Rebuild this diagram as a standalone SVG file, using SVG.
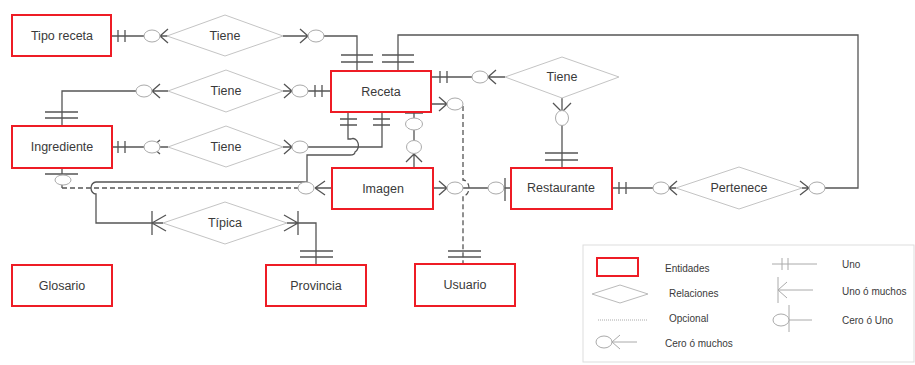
<svg xmlns="http://www.w3.org/2000/svg" width="915" height="365" viewBox="0 0 915 365">
<style>
.ent{fill:#fff;stroke:#ee1c25;stroke-width:2}
.rel{fill:#fff;stroke:#c4c4c4;stroke-width:1}
.ln{fill:none;stroke:#555;stroke-width:1.3}
.dsh{stroke-dasharray:5,3}
.o{fill:#fff;stroke:#aaa;stroke-width:1}
.lg{fill:none;stroke:#aaa;stroke-width:1}
text{font-family:"Liberation Sans",Arial,sans-serif;fill:#3a3a3a;font-size:12.5px;text-anchor:middle}
.t{font-size:10px;text-anchor:start}
</style>
<rect width="915" height="365" fill="#fff"/>
<g id="connectors">
  <!-- Tipo receta - Tiene - Receta -->
  <path class="ln" d="M112,36 H144 M118,30 V42 M125,30 V42 M160,36 L168,29 M160,36 L168,43 M160,36 H168"/>
  <path class="ln" d="M283,36 H308 M308,36 L300,29 M308,36 L300,43 M324,36 H357 V71 M341,55 H373 M341,62 H373"/>
  <ellipse class="o" cx="152" cy="36" rx="8" ry="6"/>
  <ellipse class="o" cx="316" cy="36" rx="8" ry="6"/>
  <!-- Receta - Pertenece loop -->
  <path class="ln" d="M398,71 V35 H858 V188 H825 M382,55 H414 M382,62 H414 M802,188 H809 M809,188 L800,181 M809,188 L800,195"/>
  <ellipse class="o" cx="817" cy="188" rx="8" ry="6"/>
  <!-- Restaurante - Pertenece -->
  <path class="ln" d="M612,188 H653 M619,182 V194 M626,182 V194 M669,188 H676 M669,188 L677,181 M669,188 L677,195"/>
  <ellipse class="o" cx="661" cy="188" rx="8" ry="6"/>
  <!-- Ingrediente - Tiene - Receta (top) -->
  <path class="ln" d="M62,126 V91 H136 M45,112 H78 M45,118 H78 M152,91 H168 M152,91 L160,84 M152,91 L160,98"/>
  <path class="ln" d="M283,91 H292 M292,91 L284,84 M292,91 L284,98 M308,91 H331 M315,85 V97 M322,85 V97"/>
  <ellipse class="o" cx="144" cy="91" rx="8" ry="6"/>
  <ellipse class="o" cx="300" cy="91" rx="8" ry="6"/>
  <!-- Ingrediente - Tiene - Receta (bottom) -->
  <path class="ln" d="M112,147 H144 M118,141 V153 M125,141 V153 M152,147 H168 M152,147 L160,140 M152,147 L160,154"/>
  <path class="ln" d="M283,147 H292 M292,147 L284,140 M292,147 L284,154 M308,147 H382 V112 M373,119 H390 M373,125 H390"/>
  <ellipse class="o" cx="152" cy="147" rx="8" ry="6"/>
  <ellipse class="o" cx="300" cy="147" rx="8" ry="6"/>
  <!-- Receta - Tipica - Provincia -->
  <path class="ln" d="M348,112 V139 H351 A5,6.5 0 0 1 355,152 Q355,155 350,155 H307 V182 H96 A5,6 0 0 0 96,194 V223 H163 M340,119 H357 M340,125 H357"/>
  <path class="ln" d="M152,211 V235 M152,223 L166,215 M152,223 L166,231"/>
  <path class="ln" d="M287,223 H316 V265 M298,211 V235 M298,223 L284,215 M298,223 L284,231 M300,251 H333 M300,257 H333"/>
  <!-- Receta - Tiene - Restaurante -->
  <path class="ln" d="M431,77 H472 M440,71 V83 M447,71 V83 M488,77 H505 M488,77 L496,70 M488,77 L496,84"/>
  <path class="ln" d="M562,98 V110 M562,112 L553,103 M562,112 L571,103 M562,125 V168 M545,153 H578 M545,160 H578"/>
  <ellipse class="o" cx="480" cy="77" rx="8" ry="6"/>
  <ellipse class="o" cx="562" cy="118" rx="6.5" ry="7.5"/>
  <!-- Receta - Imagen -->
  <path class="ln" d="M414,112 V118 M405,113 H423 M414,130 V140 M414,154 V168 M414,154 L406,162 M414,154 L422,162"/>
  <ellipse class="o" cx="414" cy="124" rx="8.5" ry="6"/>
  <ellipse class="o" cx="414" cy="147" rx="7.5" ry="6.5"/>
  <!-- Receta - Usuario (optional) -->
  <path class="ln" d="M431,104 H447 M447,104 L439,97 M447,104 L439,111"/>
  <path class="ln dsh" d="M463,106 V180 A6,8 0 0 1 463,196 V264"/>
  <path class="ln" d="M448,251 H481 M448,257 H481"/>
  <ellipse class="o" cx="455" cy="104" rx="8" ry="6"/>
  <!-- Imagen - Restaurante -->
  <path class="ln" d="M433,188 H447 M447,188 L439,181 M447,188 L439,195 M463,188 H489 M503,188 H511 M505,178 V201"/>
  <ellipse class="o" cx="455" cy="188" rx="8" ry="6"/>
  <ellipse class="o" cx="496" cy="188" rx="8" ry="6"/>
  <!-- Imagen - Ingrediente (optional) -->
  <path class="ln" d="M332,188 H315 M315,188 L325,181 M315,188 L325,195 M62,168 V174 M45,174 H78 M62,185 V188"/>
  <path class="ln dsh" d="M62,188 H298"/>
  <ellipse class="o" cx="306" cy="188" rx="8" ry="6"/>
  <ellipse class="o" cx="63" cy="180" rx="8" ry="5"/>
</g>
<g id="tipo-receta"><rect class="ent" x="12" y="15" width="99" height="41"/><text x="62" y="40">Tipo receta</text></g>
<g id="receta"><rect class="ent" x="331" y="71" width="100" height="41"/><text x="381" y="96">Receta</text></g>
<g id="ingrediente"><rect class="ent" x="12" y="126" width="100" height="42"/><text x="62" y="151">Ingrediente</text></g>
<g id="imagen"><rect class="ent" x="332" y="168" width="101" height="41"/><text x="383" y="193">Imagen</text></g>
<g id="restaurante"><rect class="ent" x="511" y="168" width="101" height="41"/><text x="561" y="192">Restaurante</text></g>
<g id="glosario"><rect class="ent" x="12" y="265" width="100" height="41"/><text x="62" y="290">Glosario</text></g>
<g id="provincia"><rect class="ent" x="266" y="265" width="100" height="41"/><text x="316" y="290">Provincia</text></g>
<g id="usuario"><rect class="ent" x="415" y="264" width="100" height="42"/><text x="465" y="289">Usuario</text></g>
<g id="tiene-1"><polygon class="rel" points="167,36 225,15 283,36 225,56"/><text x="225" y="40">Tiene</text></g>
<g id="tiene-2"><polygon class="rel" points="168,91 226,70 283,91 226,112"/><text x="226" y="95">Tiene</text></g>
<g id="tiene-3"><polygon class="rel" points="168,147 226,126 283,147 226,167"/><text x="226" y="151">Tiene</text></g>
<g id="tiene-4"><polygon class="rel" points="505,77 562,57 619,77 562,98"/><text x="562" y="81">Tiene</text></g>
<g id="pertenece"><polygon class="rel" points="676,188 739,167 802,188 739,209"/><text x="739" y="192">Pertenece</text></g>
<g id="tipica"><polygon class="rel" points="163,223 225,202 287,223 225,244"/><text x="225" y="227">Típica</text></g>
<g id="legend">
  <rect x="583" y="245" width="331" height="117" fill="#fff" stroke="#ddd"/>
  <rect x="597" y="258" width="41" height="18" fill="#fff" stroke="#ee1c25" stroke-width="2"/>
  <text class="t" x="665" y="272">Entidades</text>
  <polygon points="592,294 620,285 648,294 620,303" fill="#fff" stroke="#bbb"/>
  <text class="t" x="669" y="297">Relaciones</text>
  <line x1="598" y1="320" x2="648" y2="320" stroke="#aaa" stroke-dasharray="1,1"/>
  <text class="t" x="669" y="322">Opcional</text>
  <path class="lg" d="M612,342 H637 M612,342 L620,335 M612,342 L620,349"/>
  <ellipse class="o" cx="604" cy="342" rx="8" ry="6"/>
  <text class="t" x="665" y="347">Cero ó muchos</text>
  <path class="lg" d="M772,264 H817 M782,258 V270 M788,258 V270"/>
  <text class="t" x="842" y="268">Uno</text>
  <path class="lg" d="M778,277 V303 M778,290 H813 M778,290 L787,282 M778,290 L787,298"/>
  <text class="t" x="842" y="295">Uno ó muchos</text>
  <path class="lg" d="M789,305 V332 M789,320 H812"/>
  <ellipse class="o" cx="781" cy="320" rx="8" ry="6"/>
  <text class="t" x="842" y="324">Cero ó Uno</text>
</g>
</svg>
